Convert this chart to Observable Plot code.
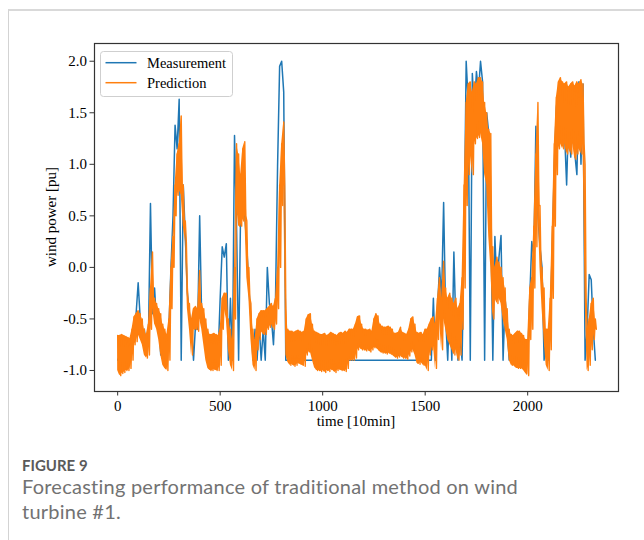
<!DOCTYPE html>
<html><head><meta charset="utf-8">
<script src="https://cdn.jsdelivr.net/npm/d3@7"></script>
<script src="https://cdn.jsdelivr.net/npm/@observablehq/plot@0.6"></script>
<style>
html,body{margin:0;padding:0;background:#fff;}
body{width:644px;height:540px;position:relative;overflow:hidden;}
#card{position:absolute;left:8px;top:9px;width:700px;height:600px;border-left:1px solid #d3d3d3;border-top:2px solid #d9d9d9;}
#chart{position:absolute;left:0;top:0;}
.cap{position:absolute;left:22px;font-family:Lato,sans-serif;white-space:nowrap;}
#fig{top:456px;font-size:15px;line-height:18px;font-weight:700;color:#5a5a5a;letter-spacing:0px;}
#cap1{top:474px;font-size:20px;line-height:24px;color:#727272;letter-spacing:0.24px;}
#cap2{top:499px;font-size:20px;line-height:24px;color:#727272;letter-spacing:0.24px;}
</style></head>
<body>
<div id="card"></div>
<div id="chart"></div>
<div id="fig" class="cap">FIGURE 9</div>
<div id="cap1" class="cap">Forecasting performance of traditional method on wind</div>
<div id="cap2" class="cap">turbine #1.</div>
<script>
const xTicks = [0, 500, 1000, 1500, 2000];
const yTicks = [-1.0, -0.5, 0.0, 0.5, 1.0, 1.5, 2.0];
const seriesNames = ["Measurement", "Prediction"];
const timeStep = 10; // samples read every 10 steps [10min]

const measurement = [
 -0.9,-0.85,-0.8,-0.85,-0.9,-0.8,-0.85,-0.75,-0.55,-0.45,
 -0.15,-0.5,-0.7,-0.6,-0.8,-0.7,0.62,-0.45,-0.2,-0.55,
 -0.5,-0.85,-0.7,-0.9,-0.85,-0.6,0.0,0.5,1.38,1.15,
 1.63,-0.9,0.8,0.3,-0.25,-0.45,-0.55,-0.9,-0.55,-0.6,
 0.5,-0.5,-0.6,-0.7,-0.85,-0.9,-0.85,-0.9,-0.85,-0.85,
 -0.3,0.2,0.1,0.23,-0.9,-0.3,-0.9,1.28,0.4,-0.9,
 0.6,0.8,0.5,0.2,-0.2,-0.5,-0.9,-0.6,-0.9,-0.55,
 -0.9,-0.6,-0.9,0.0,-0.35,-0.5,-0.75,-0.3,0.98,1.95,
 2.0,1.7,-0.9,-0.9,-0.9,-0.9,-0.9,-0.9,-0.9,-0.9,
 -0.9,-0.9,-0.9,-0.9,-0.9,-0.9,-0.9,-0.9,-0.9,-0.9,
 -0.9,-0.9,-0.9,-0.9,-0.9,-0.9,-0.9,-0.9,-0.9,-0.9,
 -0.9,-0.9,-0.9,-0.9,-0.9,-0.9,-0.9,-0.9,-0.9,-0.9,
 -0.9,-0.9,-0.9,-0.9,-0.9,-0.9,-0.9,-0.9,-0.9,-0.9,
 -0.9,-0.9,-0.9,-0.9,-0.9,-0.9,-0.9,-0.9,-0.9,-0.9,
 -0.9,-0.9,-0.9,-0.9,-0.9,-0.9,-0.9,-0.9,-0.9,-0.9,
 -0.9,-0.9,-0.9,-0.9,-0.3,-0.9,-0.4,0.0,-0.3,0.63,
 -0.5,-0.9,-0.3,-0.9,0.15,-0.6,-0.9,-0.7,-0.9,0.3,
 2.0,1.6,-0.9,1.88,1.5,1.9,1.7,2.0,1.8,-0.9,
 1.5,1.3,0.5,-0.9,0.3,-0.2,0.1,0.31,-0.9,-0.3,
 -0.6,-0.9,-0.7,-0.9,-0.9,-0.9,-0.9,-0.9,-0.9,-0.9,
 -0.9,-0.3,0.25,0.1,1.37,0.5,0.2,0.0,-0.9,-0.7,
 -0.9,-0.5,0.2,1.0,1.55,1.74,1.35,1.7,1.3,0.8,
 1.5,1.07,1.4,1.1,0.9,1.8,1.0,1.78,-0.9,-0.6,
 -0.07,-0.12,-0.6,-0.9
];

// Prediction oscillates strongly: upper and lower values read at each sample
const predictionHigh = [
 -0.66,-0.66,-0.65,-0.66,-0.67,-0.68,-0.69,-0.6,-0.48,-0.45,
 -0.42,-0.45,-0.5,-0.6,-0.65,-0.55,-0.2,0.15,-0.3,-0.35,
 -0.4,-0.45,-0.55,-0.6,-0.65,-0.5,0.0,0.3,0.8,1.1,
 1.2,1.47,0.8,0.45,-0.2,-0.35,-0.5,-0.4,-0.38,-0.4,
 -0.03,-0.35,-0.4,-0.5,-0.6,-0.65,-0.65,-0.64,-0.65,-0.66,
 -0.6,-0.3,-0.25,-0.25,-0.5,-0.6,-0.7,0.0,1.2,1.1,
 0.9,1.15,1.22,0.45,0.0,-0.35,-0.6,-0.7,-0.5,-0.45,
 -0.42,-0.42,-0.42,-0.4,-0.38,-0.35,-0.38,-0.3,0.0,0.8,
 1.2,1.41,-0.3,-0.6,-0.62,-0.62,-0.63,-0.62,-0.61,-0.62,
 -0.63,-0.62,-0.5,-0.46,-0.45,-0.55,-0.62,-0.63,-0.64,-0.65,
 -0.65,-0.64,-0.66,-0.65,-0.63,-0.64,-0.65,-0.66,-0.64,-0.63,
 -0.64,-0.62,-0.63,-0.6,-0.6,-0.6,-0.55,-0.48,-0.47,-0.55,
 -0.6,-0.6,-0.61,-0.6,-0.62,-0.5,-0.45,-0.47,-0.55,-0.57,
 -0.58,-0.58,-0.57,-0.58,-0.6,-0.64,-0.64,-0.63,-0.58,-0.63,
 -0.64,-0.65,-0.6,-0.5,-0.48,-0.55,-0.63,-0.64,-0.63,-0.65,
 -0.6,-0.6,-0.55,-0.5,-0.48,-0.55,-0.3,-0.1,-0.3,0.06,
 -0.2,-0.3,-0.25,-0.3,-0.35,-0.3,-0.4,-0.35,-0.1,0.8,
 1.6,1.78,1.8,1.7,1.8,1.78,1.84,1.84,1.8,1.6,
 1.5,1.34,1.3,0.2,0.0,0.1,0.05,0.0,-0.1,-0.2,
 -0.4,-0.6,-0.65,-0.66,-0.64,-0.62,-0.62,-0.64,-0.66,-0.7,
 -0.7,-0.2,-0.1,0.4,1.1,1.6,0.6,0.0,-0.2,-0.6,
 -0.6,-0.3,0.4,1.2,1.65,1.8,1.84,1.8,1.78,1.8,
 1.75,1.78,1.8,1.76,1.8,1.78,1.82,1.78,1.0,-0.6,
 -0.5,-0.35,-0.3,-0.5
];
const predictionLow = [
 -1.0,-1.05,-1.03,-1.02,-1.0,-1.0,-0.98,-0.9,-0.75,-0.72,
 -0.65,-0.7,-0.75,-0.85,-0.88,-0.85,-0.6,-0.4,-0.55,-0.6,
 -0.7,-0.85,-0.95,-0.98,-1.0,-0.9,-0.4,0.0,0.5,0.7,
 0.75,0.7,0.4,0.25,-0.4,-0.6,-0.85,-0.6,-0.6,-0.62,
 -0.5,-0.6,-0.75,-0.9,-0.98,-1.0,-1.0,-0.99,-1.0,-1.0,
 -0.95,-0.6,-0.4,-0.5,-0.8,-0.95,-1.0,-0.5,0.6,0.4,
 0.4,0.45,0.5,-0.1,-0.3,-0.7,-0.95,-1.0,-0.8,-0.7,
 -0.62,-0.65,-0.65,-0.6,-0.58,-0.55,-0.6,-0.55,-0.4,0.0,
 0.6,0.8,-0.85,-0.92,-0.95,-0.94,-0.96,-0.95,-0.93,-0.94,
 -0.95,-0.96,-0.85,-0.82,-0.82,-0.9,-0.97,-1.0,-1.0,-1.01,
 -1.0,-1.02,-1.0,-1.01,-0.99,-1.0,-1.02,-1.0,-0.99,-1.0,
 -1.0,-1.01,-0.98,-0.9,-0.9,-0.9,-0.88,-0.8,-0.78,-0.8,
 -0.8,-0.81,-0.8,-0.82,-0.8,-0.78,-0.78,-0.8,-0.82,-0.83,
 -0.83,-0.84,-0.83,-0.84,-0.85,-0.87,-0.88,-0.87,-0.86,-0.88,
 -0.88,-0.89,-0.86,-0.82,-0.8,-0.85,-0.93,-0.94,-0.92,-0.95,
 -0.95,-1.0,-0.85,-0.8,-0.75,-0.98,-0.7,-0.5,-0.8,-0.5,
 -0.6,-0.7,-0.75,-0.8,-0.85,-0.8,-0.9,-0.85,-0.6,-0.2,
 0.6,0.9,1.1,0.9,1.2,1.25,1.26,1.3,1.2,0.9,
 0.8,0.3,0.0,-0.5,-0.3,-0.35,-0.3,-0.35,-0.5,-0.6,
 -0.7,-0.9,-0.95,-0.95,-0.97,-0.98,-0.98,-0.98,-1.0,-1.03,
 -1.05,-0.7,-0.6,-0.2,0.2,0.6,0.0,-0.4,-0.7,-0.95,
 -1.0,-0.8,-0.3,0.4,0.9,1.15,1.2,1.15,1.2,1.1,
 1.15,1.1,1.2,1.05,1.1,1.15,1.1,1.2,-0.3,-1.0,
 -0.95,-0.8,-0.7,-0.6
];

const measRows = measurement.map((v, i) => ({t: i * timeStep, v}));
const bandRows = predictionHigh.map((h, i) => ({t: i * timeStep, hi: h, lo: predictionLow[i]}));
const predRows = [];
bandRows.forEach(d => {
  predRows.push({t: d.t, v: d.hi});
  predRows.push({t: d.t + timeStep / 2, v: d.lo});
});

const serif = '"Liberation Serif", "Times New Roman", serif';
const orange = "#ff7f0e", blue = "#1f77b4";
const chart = Plot.plot({
  width: 644, height: 440,
  marginLeft: 94, marginRight: 26, marginTop: 43, marginBottom: 49,
  style: {fontFamily: serif, fontSize: "15px", color: "#000", background: "transparent", overflow: "visible"},
  x: {domain: [-113, 2443]},
  y: {domain: [-1.204, 2.172]},
  marks: [
    Plot.axisX({ticks: xTicks, tickSize: 4.5, tickPadding: 4, tickFormat: d => String(d), label: null, stroke: "#333"}),
    Plot.axisY({ticks: yTicks, tickSize: 4.5, tickPadding: 3, tickFormat: d => d.toFixed(1), label: null, stroke: "#333"}),
    Plot.line(measRows, {x: "t", y: "v", stroke: blue, strokeWidth: 1.5}),
    Plot.areaY(bandRows, {x: "t", y1: "lo", y2: "hi", fill: orange}),
    Plot.line(predRows, {x: "t", y: "v", stroke: orange, strokeWidth: 1.4}),
    Plot.frame({stroke: "#333", strokeWidth: 1.2})
  ]
});
document.getElementById("chart").appendChild(chart);

const svg = d3.select(chart);
svg.append("text").attr("x", 356).attr("y", 421).attr("text-anchor", "middle").attr("dy", "0.35em")
  .attr("font-family", serif).attr("font-size", 15).attr("fill", "#000").text("time [10min]");
svg.append("text").attr("transform", "translate(51,217) rotate(-90)").attr("text-anchor", "middle").attr("dy", "0.35em")
  .attr("font-family", serif).attr("font-size", 15).attr("fill", "#000").text("wind power [pu]");

const lg = svg.append("g").attr("text-anchor", "start");
lg.append("rect").attr("x", 100.5).attr("y", 51.5).attr("width", 132).attr("height", 45).attr("rx", 3)
  .attr("fill", "#fff").attr("fill-opacity", 0.85).attr("stroke", "#cfcfcf");
const colors = [blue, orange];
seriesNames.forEach((name, i) => {
  const y = 62.7 + i * 20;
  lg.append("line").attr("x1", 105.5).attr("x2", 136.5).attr("y1", y).attr("y2", y).attr("stroke", colors[i]).attr("stroke-width", 1.5);
  lg.append("text").attr("x", 147).attr("y", y).attr("dy", "0.35em").attr("text-anchor", "start")
    .attr("font-family", serif).attr("font-size", 14.5).attr("fill", "#000").text(name);
});
</script>
</body></html>
